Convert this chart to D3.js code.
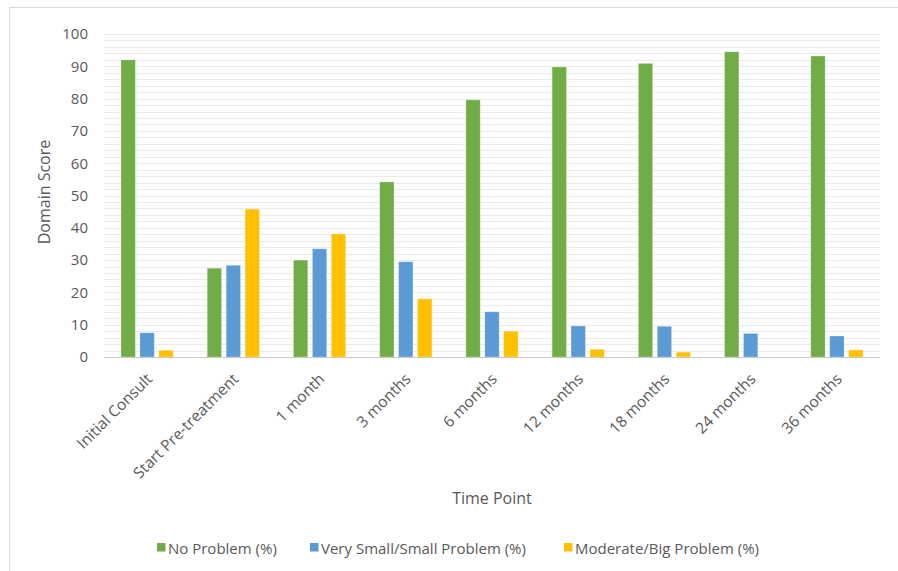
<!DOCTYPE html>
<html>
<head>
<meta charset="utf-8">
<script src="https://cdn.jsdelivr.net/npm/d3@7"></script>
<style>
  html, body { margin: 0; padding: 0; background: #fff; }
  svg text { font-family: "Open Sans", "Liberation Sans", sans-serif; fill: #595959; }
</style>
</head>
<body>
<svg id="chart" width="898" height="571"></svg>
<script>
// Time points along the x axis
const categories = ["Initial Consult", "Start Pre-treatment", "1 month", "3 months",
  "6 months", "12 months", "18 months", "24 months", "36 months"];

// Series names (legend labels)
const seriesNames = ["No Problem (%)", "Very Small/Small Problem (%)", "Moderate/Big Problem (%)"];
const seriesColors = ["#70AD47", "#5B9BD5", "#FFC000"];

// Percentage of respondents per time point
const noProblem        = [92.0, 27.5, 30.0, 54.2, 79.6, 89.8, 90.9, 94.5, 93.2];
const smallProblem     = [7.5, 28.4, 33.5, 29.5, 14.0, 9.6, 9.5, 7.3, 6.5];
const bigProblem       = [2.1, 45.8, 38.1, 18.0, 8.0, 2.4, 1.5, 0, 2.2];

// Y axis ticks
const yTicks = [0, 10, 20, 30, 40, 50, 60, 70, 80, 90, 100];
const yGrid = d3.range(0, 101, 2);

const seriesValues = [noProblem, smallProblem, bigProblem];

const svg = d3.select("#chart");

// outer chart frame
svg.append("rect")
  .attr("x", 9.5).attr("y", 7.5)
  .attr("width", 950).attr("height", 650)
  .attr("fill", "none").attr("stroke", "#d9d9d9").attr("stroke-width", 1);

const plot = { left: 104, right: 880, top: 34, bottom: 357 };

const x = d3.scaleBand().domain(categories).range([plot.left, plot.right]).padding(0);
const groupPad = x.bandwidth() * 0.197;
const xInner = d3.scaleBand().domain(d3.range(seriesNames.length))
  .range([groupPad, x.bandwidth() - groupPad])
  .paddingInner(0.242).paddingOuter(0);
const y = d3.scaleLinear().domain([0, 100]).range([plot.bottom, plot.top]);

// horizontal gridlines
svg.append("g")
  .selectAll("line")
  .data(yGrid.filter(v => v > 0))
  .join("line")
  .attr("x1", plot.left).attr("x2", plot.right)
  .attr("y1", d => Math.round(y(d)) + 0.5).attr("y2", d => Math.round(y(d)) + 0.5)
  .attr("stroke", "#ebebeb").attr("stroke-width", 1);

// y axis tick labels
const yAxis = d3.axisLeft(y).tickValues(yTicks).tickSize(0).tickPadding(16);
const yg = svg.append("g").attr("transform", `translate(${plot.left},0)`).call(yAxis);
yg.select(".domain").remove();
yg.selectAll("text").attr("font-size", 15).style("font-family", "'Open Sans', sans-serif").attr("fill", "#595959");

// bars
const rows = categories.map((c, i) => ({ cat: c, vals: seriesValues.map(s => s[i]) }));
const groups = svg.append("g").selectAll("g")
  .data(rows).join("g")
  .attr("transform", d => `translate(${x(d.cat)},0)`);
groups.selectAll("rect")
  .data(d => d.vals.map((v, k) => ({ v, k })))
  .join("rect")
  .attr("x", d => xInner(d.k))
  .attr("width", xInner.bandwidth())
  .attr("y", d => y(d.v))
  .attr("height", d => y(0) - y(d.v))
  .attr("fill", d => seriesColors[d.k])
  .attr("stroke", "#ffffff").attr("stroke-opacity", 0.35).attr("stroke-width", 0.8);

// baseline
svg.append("line")
  .attr("x1", plot.left).attr("x2", plot.right)
  .attr("y1", Math.round(y(0)) + 0.5).attr("y2", Math.round(y(0)) + 0.5)
  .attr("stroke", "#c8c8c8").attr("stroke-width", 1);

// x axis labels, rotated
const xAxis = d3.axisBottom(x).tickSize(0).tickPadding(0);
const xg = svg.append("g").attr("transform", `translate(0,${plot.bottom})`).call(xAxis);
xg.select(".domain").remove();
xg.selectAll("text")
  .attr("font-size", 15.5)
  .style("font-family", "'Open Sans', sans-serif")
  .attr("fill", "#595959")
  .attr("text-anchor", "end")
  .attr("dy", null).attr("y", 0)
  .attr("transform", "translate(6,23) rotate(-45)");

// axis titles
svg.append("text")
  .attr("x", (plot.left + plot.right) / 2).attr("y", 504)
  .attr("text-anchor", "middle").attr("font-size", 16)
  .text("Time Point");
svg.append("text")
  .attr("transform", "translate(50,192) rotate(-90)")
  .attr("text-anchor", "middle").attr("font-size", 16)
  .text("Domain Score");

// legend
const legendX = [157, 310, 564];
const legend = svg.append("g").selectAll("g")
  .data(seriesNames).join("g")
  .attr("transform", (d, i) => `translate(${legendX[i]},543)`);
legend.append("rect").attr("width", 8.5).attr("height", 8.5)
  .attr("fill", (d, i) => seriesColors[i]);
legend.append("text").attr("x", 11).attr("y", 10.5)
  .attr("font-size", 15).text(d => d);
</script>
</body>
</html>
